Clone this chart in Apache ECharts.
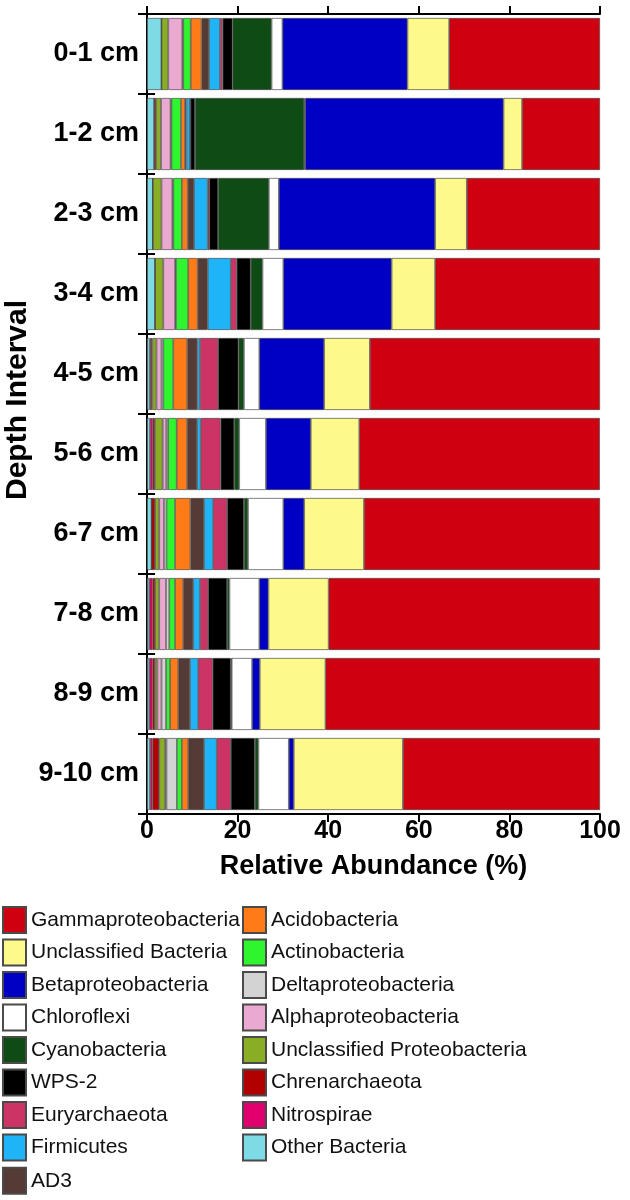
<!DOCTYPE html>
<html>
<head>
<meta charset="utf-8">
<script src="https://cdn.jsdelivr.net/npm/echarts@6/dist/echarts.min.js"></script>
<style>html,body{margin:0;padding:0;background:#fff}#c{width:630px;height:1200px}</style>
</head>
<body>
<div id="c"></div>
<script>
var depths = ['0-1 cm','1-2 cm','2-3 cm','3-4 cm','4-5 cm','5-6 cm','6-7 cm','7-8 cm','8-9 cm','9-10 cm'];
var xTicks = [0, 20, 40, 60, 80, 100];

// stacked from left (0%) to right (100%)
var otherBacteria      = [3.2, 1.6, 1.3, 1.8, 0.6, 0.66, 1.0, 0.5, 0.5, 0.66];
var nitrospirae        = [0,   0,   0,   0,   0.3, 0.6,  0,   0.7, 0.7, 0.54];
var chrenarchaeota     = [0,   0.4, 0,   0,   0.3, 0.5,  0.8, 0.6, 0.57, 1.5];
var unclProteobacteria = [1.5, 1.1, 1.9, 1.8, 0.9, 1.7,  0.9, 0.9, 0.53, 1.3];
var alphaproteobacteria= [3.1, 2.1, 2.4, 2.6, 1.1, 0.8,  1.05, 1.5, 0.9, 0.3];
var deltaproteobacteria= [0.2, 0.2, 0.2, 0.2, 0.4, 0.4,  0.55, 0.7, 1.0, 2.3];
var actinobacteria     = [1.65, 2.1, 1.9, 2.7, 2.2, 1.9, 1.9, 1.3, 0.9, 1.1];
var acidobacteria      = [2.4, 0.9, 1.3, 2.1, 3.1, 2.3,  3.4, 1.8, 1.8, 1.4];
var ad3                = [1.65, 0.3, 1.4, 2.2, 2.2, 2.2, 3.0, 2.2, 2.6, 3.5];
var firmicutes         = [2.4, 0.8, 3.0, 5.1, 0.6, 0.8,  2.0, 1.5, 1.8, 2.8];
var euryarchaeota      = [0.6, 0.1, 0.35, 1.3, 4.0, 4.4, 3.1, 1.8, 3.2, 3.1];
var wps2               = [2.2, 1.0, 1.95, 3.1, 4.5, 3.0, 3.7, 4.2, 4.0, 5.3];
var cyanobacteria      = [8.6, 24.1, 11.2, 2.6, 1.2, 1.1, 0.9, 0.5, 0.2, 0.8];
var chloroflexi        = [2.4, 0.2, 2.2, 4.6, 3.4, 5.9,  7.8, 6.6, 4.5, 6.7];
var betaproteobacteria = [27.6, 43.8, 34.5, 23.9, 14.3, 9.9, 4.6, 2.0, 1.7, 1.1];
var unclBacteria       = [9.2, 4.1, 7.0, 9.6, 10.1, 10.7, 13.2, 13.3, 14.5, 24.1];
var gammaproteobacteria= [33.3, 17.2, 29.4, 36.4, 50.8, 53.1, 52.1, 59.9, 60.6, 43.5];

var seriesDefs = [
  ['Other Bacteria', otherBacteria, '#7edbe6'],
  ['Nitrospirae', nitrospirae, '#e0006e'],
  ['Chrenarchaeota', chrenarchaeota, '#b20000'],
  ['Unclassified Proteobacteria', unclProteobacteria, '#8aad26'],
  ['Alphaproteobacteria', alphaproteobacteria, '#eaa9d0'],
  ['Deltaproteobacteria', deltaproteobacteria, '#d3d3d3'],
  ['Actinobacteria', actinobacteria, '#2ef52e'],
  ['Acidobacteria', acidobacteria, '#ff7b18'],
  ['AD3', ad3, '#553b35'],
  ['Firmicutes', firmicutes, '#1fb4f7'],
  ['Euryarchaeota', euryarchaeota, '#cc3466'],
  ['WPS-2', wps2, '#000000'],
  ['Cyanobacteria', cyanobacteria, '#0f4c15'],
  ['Chloroflexi', chloroflexi, '#ffffff'],
  ['Betaproteobacteria', betaproteobacteria, '#0000c4'],
  ['Unclassified Bacteria', unclBacteria, '#fdf98a'],
  ['Gammaproteobacteria', gammaproteobacteria, '#cf0010']
];

var legendLeft = ['Gammaproteobacteria','Unclassified Bacteria','Betaproteobacteria','Chloroflexi','Cyanobacteria','WPS-2','Euryarchaeota','Firmicutes'];
var legendLeftLast = ['AD3'];
var legendRight = ['Acidobacteria','Actinobacteria','Deltaproteobacteria','Alphaproteobacteria','Unclassified Proteobacteria','Chrenarchaeota','Nitrospirae','Other Bacteria'];

var FONT = 'Liberation Sans, Arial, sans-serif';

var series = seriesDefs.map(function (d) {
  return {
    name: d[0], type: 'bar', stack: 'all', data: d[1],
    barCategoryGap: '10%',
    itemStyle: { color: d[2], borderColor: '#4a4a4a', borderWidth: 0.7 },
    emphasis: { disabled: true }
  };
});

var axisLine = { show: true, lineStyle: { color: '#000', width: 2 } };
var LEG_TOP = 906;
var legendCommon = {
  orient: 'vertical', top: LEG_TOP, padding: 0,
  itemWidth: 23, itemHeight: 26, itemGap: 4.5, icon: 'rect',
  textStyle: { fontFamily: FONT, fontSize: 21, color: '#111' },
  selectedMode: false
};

var chart = echarts.init(document.getElementById('c'), null, { renderer: 'canvas' });
chart.setOption({
  animation: false,
  backgroundColor: '#fff',
  grid: { left: 147, right: 30, top: 14, bottom: 386, containLabel: false, outerBoundsMode: 'none' },
  graphic: [{
    type: 'text', x: 18, y: 400, rotation: Math.PI / 2,
    style: { text: 'Depth Interval', fontFamily: FONT, fontWeight: 'bold', fontSize: 30,
      fill: '#000', align: 'center', verticalAlign: 'middle' }
  }],
  xAxis: [{
    type: 'value', position: 'bottom', min: 0, max: 100, interval: 20,
    axisLine: axisLine,
    axisTick: { show: true, inside: false, length: 8, lineStyle: { color: '#000', width: 2 } },
    splitLine: { show: false },
    axisLabel: { margin: 5, fontFamily: FONT, fontWeight: 'bold', fontSize: 25, color: '#000',
      formatter: function (v) { return xTicks.indexOf(v) >= 0 ? String(v) : ''; } },
    name: 'Relative Abundance (%)', nameLocation: 'middle', nameGap: 39,
    nameTextStyle: { fontFamily: FONT, fontWeight: 'bold', fontSize: 27, color: '#000' }
  }, {
    type: 'value', position: 'top', min: 0, max: 100, interval: 20,
    axisLine: axisLine,
    axisTick: { show: true, inside: false, length: 8, lineStyle: { color: '#000', width: 2 } },
    splitLine: { show: false }, axisLabel: { show: false }
  }],
  yAxis: [{
    type: 'category', data: depths, inverse: true, position: 'left',
    axisLine: axisLine,
    axisTick: { show: true, inside: false, length: 9, lineStyle: { color: '#000', width: 2 } },
    axisLabel: { margin: 8, fontFamily: FONT, fontWeight: 'bold', fontSize: 27, color: '#000' }
  }, {
    type: 'category', data: depths, inverse: true, position: 'right',
    axisLine: axisLine,
    axisTick: { show: true, inside: false, length: 8, lineStyle: { color: '#000', width: 2 } },
    axisLabel: { show: false }
  }],
  legend: [
    Object.assign({}, legendCommon, { left: 2, data: legendLeft }),
    Object.assign({}, legendCommon, { left: 2, top: LEG_TOP + 8 * 32.6, data: legendLeftLast }),
    Object.assign({}, legendCommon, { left: 242, data: legendRight })
  ],
  series: series
});
</script>
</body>
</html>
